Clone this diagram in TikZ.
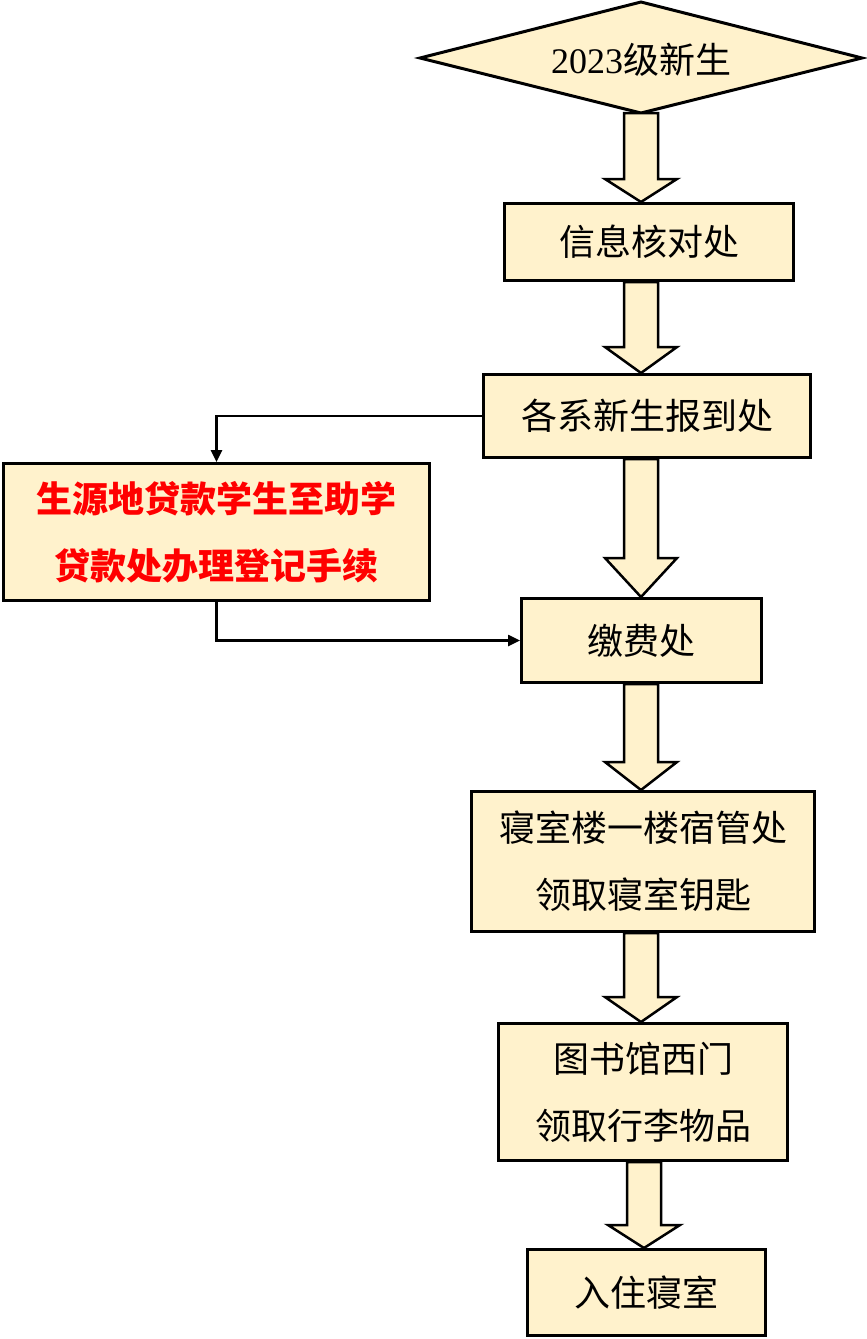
\documentclass[tikz,border=0pt]{standalone}
\usepackage{fontspec}
\setmainfont{Liberation Serif}
\newfontfamily\cjk{Noto Sans CJK SC}
\usetikzlibrary{calc,arrows.meta}
\definecolor{boxfill}{RGB}{255,242,204}
\definecolor{txtred}{RGB}{255,0,0}
\newcommand\blockarr[3]{%
  \filldraw[barrow] let \p1=(#1), \p2=(#2) in
    (\x1-17pt,\y1) -- (\x1-17pt,\y2+#3pt) -- (\x1-36pt,\y2+#3pt) -- (\x1,\y2)
    -- (\x1+36pt,\y2+#3pt) -- (\x1+17pt,\y2+#3pt) -- (\x1+17pt,\y1) -- cycle;}
\begin{document}
\begin{tikzpicture}[x=1pt,y=-1pt,
  box/.style={draw, line width=3pt, fill=boxfill, inner sep=0pt, align=center,
    font=\cjk\fontsize{36}{67}\selectfont},
  conn/.style={line width=2.5pt, -{Triangle[length=12pt,width=11pt]}},
  barrow/.style={draw=black, line width=2.5pt, fill=boxfill, line join=miter}]
\useasboundingbox (0,0) rectangle (867,1339);
% start diamond
\filldraw[fill=boxfill, draw=black, line width=3pt, line join=miter]
  (420,58) -- (641,2) -- (862,58) -- (641,113) -- cycle;
\node[font=\fontsize{36}{40}\selectfont] (d) at (641,60) {2023{\cjk 级新生}};
\coordinate (dS) at (641,113);
\coordinate (ax) at (641,0);
\coordinate (ax2) at (644,0);
% boxes
\node[box, minimum width=289pt, minimum height=77pt] (b1) at (649,242) {信息核对处};
\node[box, minimum width=327pt, minimum height=83pt] (b2) at (647,416) {各系新生报到处};
\node[box, minimum width=426pt, minimum height=137pt, text=txtred,
  font=\cjk\bfseries\fontsize{36}{67}\selectfont] (loan) at (216.5,532)
  {生源地贷款学生至助学\\贷款处办理登记手续};
\node[box, minimum width=240pt, minimum height=84pt] (pay) at (641.5,640.5) {缴费处};
\node[box, minimum width=343pt, minimum height=140pt] (dorm) at (643,861.5)
  {寝室楼一楼宿管处\\领取寝室钥匙};
\node[box, minimum width=289pt, minimum height=137pt] (lib) at (643,1092)
  {图书馆西门\\领取行李物品};
\node[box, minimum width=238pt, minimum height=86pt] (live) at (646.5,1292.5) {入住寝室};
% block arrows
\blockarr{dS}{b1.north -| ax}{23}
\blockarr{b1.south -| ax}{b2.north -| ax}{26}
\blockarr{b2.south -| ax}{pay.north -| ax}{39}
\blockarr{pay.south -| ax}{dorm.north -| ax}{28}
\blockarr{dorm.south -| ax}{lib.north -| ax}{25}
\blockarr{lib.south -| ax2}{live.north -| ax2}{23}
% side connectors
\draw[conn] (b2.west) -| (loan.north);
\draw[conn] (loan.south) |- (pay.west);
\end{tikzpicture}
\end{document}
